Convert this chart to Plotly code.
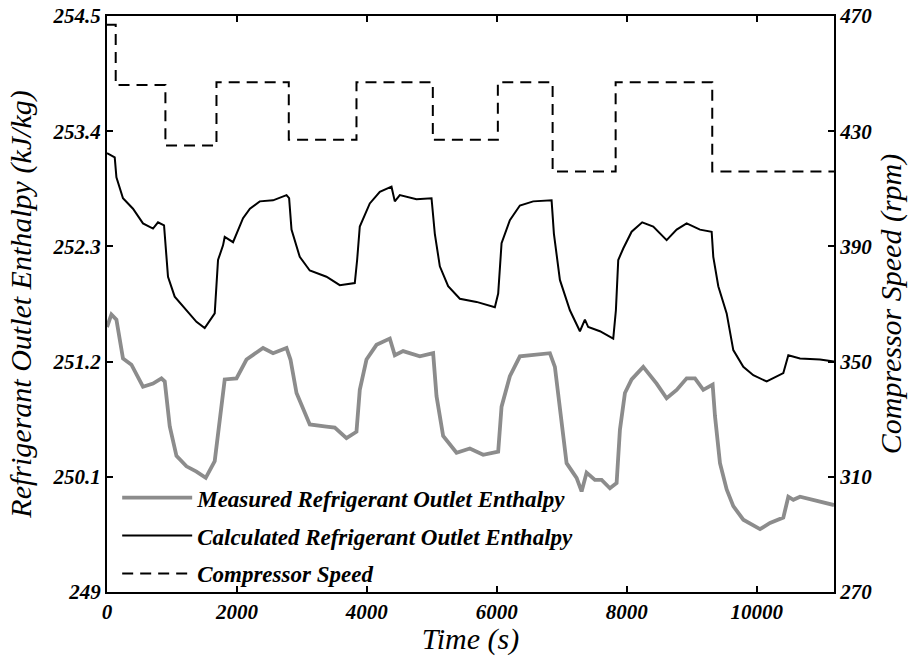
import plotly.graph_objects as go

# ---- data ----
calc_t = [0, 119, 145, 246, 400, 554, 708, 785, 878, 939, 1042, 1223, 1377, 1504, 1658,
          1709, 1786, 1812, 1940, 2094, 2200, 2351, 2556, 2763, 2803, 2840, 2967, 3121, 3378,
          3583, 3814, 3850, 3891, 4045, 4199, 4379, 4430, 4507, 4764, 4995, 5046, 5123,
          5251, 5431, 5688, 5970, 6021, 6073, 6201, 6355, 6560, 6843, 6879, 6971, 7125,
          7279, 7356, 7407, 7587, 7792, 7833, 7869, 7946, 8075, 8238, 8408, 8614, 8768,
          8922, 9127, 9307, 9332, 9409, 9538, 9640, 9794, 9948, 10154, 10410, 10487,
          10667, 10975, 11190]
calc_v = [253.19, 253.15, 252.96, 252.76, 252.66, 252.52, 252.47, 252.53, 252.50, 252.01,
          251.82, 251.69, 251.58, 251.52, 251.66, 252.17, 252.31, 252.39, 252.34, 252.57,
          252.66, 252.73, 252.74, 252.79, 252.76, 252.46, 252.20, 252.07, 252.01, 251.93, 251.95,
          252.17, 252.49, 252.71, 252.82, 252.87, 252.73, 252.79, 252.75, 252.76, 252.42,
          252.11, 251.92, 251.80, 251.77, 251.72, 251.85, 252.33, 252.55, 252.69, 252.73,
          252.74, 252.42, 251.98, 251.69, 251.49, 251.60, 251.53, 251.49, 251.42, 251.69,
          252.17, 252.28, 252.44, 252.53, 252.49, 252.36, 252.46, 252.52, 252.46, 252.44,
          252.20, 251.92, 251.66, 251.31, 251.15, 251.07, 251.01, 251.09, 251.26, 251.23,
          251.22, 251.20]

meas_t = [0, 68, 145, 246, 376, 554, 708, 838, 889, 966, 1069, 1223, 1377, 1520, 1658,
          1735, 1812, 1993, 2147, 2402, 2556, 2763, 2824, 2917, 3121, 3378, 3506, 3686,
          3840, 3891, 3994, 4148, 4353, 4430, 4558, 4815, 5020, 5072, 5174, 5380, 5585,
          5790, 6021, 6073, 6201, 6355, 6560, 6817, 6894, 6997, 7074, 7228, 7305, 7382,
          7510, 7613, 7741, 7844, 7895, 7972, 8075, 8254, 8460, 8614, 8768, 8922, 9050,
          9178, 9322, 9358, 9435, 9538, 9640, 9794, 9948, 10051, 10205, 10410, 10487,
          10564, 10667, 10872, 11078, 11190]
meas_v = [251.53, 251.65, 251.60, 251.23, 251.17, 250.96, 250.99, 251.04, 251.01, 250.58,
          250.30, 250.20, 250.15, 250.09, 250.25, 250.64, 251.03, 251.04, 251.22, 251.33,
          251.28, 251.33, 251.22, 250.90, 250.60, 250.58, 250.57, 250.47, 250.53, 250.93,
          251.22, 251.36, 251.42, 251.26, 251.30, 251.25, 251.28, 250.87, 250.49, 250.33,
          250.37, 250.31, 250.34, 250.77, 251.06, 251.25, 251.26, 251.28, 251.15, 250.58,
          250.23, 250.09, 249.96, 250.14, 250.07, 250.07, 249.99, 250.04, 250.55, 250.90,
          251.03, 251.15, 250.99, 250.85, 250.93, 251.04, 251.04, 250.93, 250.98, 250.68,
          250.23, 249.98, 249.82, 249.69, 249.64, 249.60, 249.66, 249.71, 249.91, 249.88,
          249.91, 249.88, 249.85, 249.83]

comp_t = [0, 134, 899, 1685, 2798, 3840, 5015, 6016, 6859, 7829, 9316, 11190]
comp_rpm = [467, 446, 425, 447, 427, 447, 427, 447, 416, 447, 416, 416]

x_ticks = [0, 2000, 4000, 6000, 8000, 10000]
x_text = ["0", "2000", "4000", "6000", "8000", "10000"]
y_left_ticks = [249, 250.1, 251.2, 252.3, 253.4, 254.5]
y_left_text = ["249", "250.1", "251.2", "252.3", "253.4", "254.5"]
y_right_ticks = [270, 310, 350, 390, 430, 470]

SERIF = "Liberation Serif"
tick_font = dict(family=SERIF, size=21, color="black", weight="bold", style="italic")
title_font = dict(family=SERIF, size=30, color="black", style="italic")

fig = go.Figure()
fig.add_trace(go.Scatter(x=meas_t, y=meas_v, mode="lines", name="Measured Refrigerant Outlet Enthalpy",
                         line=dict(color="#8c8c8c", width=3.8), legendgroup="a"))
fig.add_trace(go.Scatter(x=calc_t, y=calc_v, mode="lines", name="Calculated Refrigerant Outlet Enthalpy",
                         line=dict(color="black", width=2), legendgroup="b"))
fig.add_trace(go.Scatter(x=comp_t, y=comp_rpm, mode="lines", name="Compressor Speed", yaxis="y2",
                         line=dict(color="black", width=2, dash="11px,7px", shape="hv"), legendgroup="c"))

axis_common = dict(ticks="inside", ticklen=6, tickwidth=1.5, tickcolor="black", showline=True,
                   linecolor="black", linewidth=2, showgrid=False, zeroline=False,
                   tickfont=tick_font, automargin=False)

fig.update_layout(
    template="none",
    width=914, height=656,
    margin=dict(l=107, r=80, t=16, b=64),
    paper_bgcolor="white", plot_bgcolor="white",
    showlegend=True,
    legend=dict(x=0.014, y=0.201, xanchor="left", yanchor="top", bgcolor="rgba(0,0,0,0)",
                font=dict(family=SERIF, size=23, color="black", weight="bold", style="italic"),
                itemwidth=70, tracegroupgap=5, traceorder="grouped"),
    xaxis=dict(range=[0, 11190], tickvals=x_ticks, ticktext=x_text, mirror="ticks",
               title=dict(text="Time (s)", font=title_font, standoff=3), **axis_common),
    yaxis=dict(range=[249, 254.5], tickvals=y_left_ticks, ticktext=y_left_text,
               title=dict(text="Refrigerant Outlet Enthalpy (kJ/kg)", font=title_font, standoff=12),
               **axis_common),
    yaxis2=dict(range=[270, 470], tickvals=y_right_ticks, overlaying="y", side="right",
                title=dict(text="Compressor Speed (rpm)", font=title_font, standoff=9),
                **axis_common),
)

fig.write_html("out.html", config={"displayModeBar": False},
               post_script="document.body.style.margin='0px';")
